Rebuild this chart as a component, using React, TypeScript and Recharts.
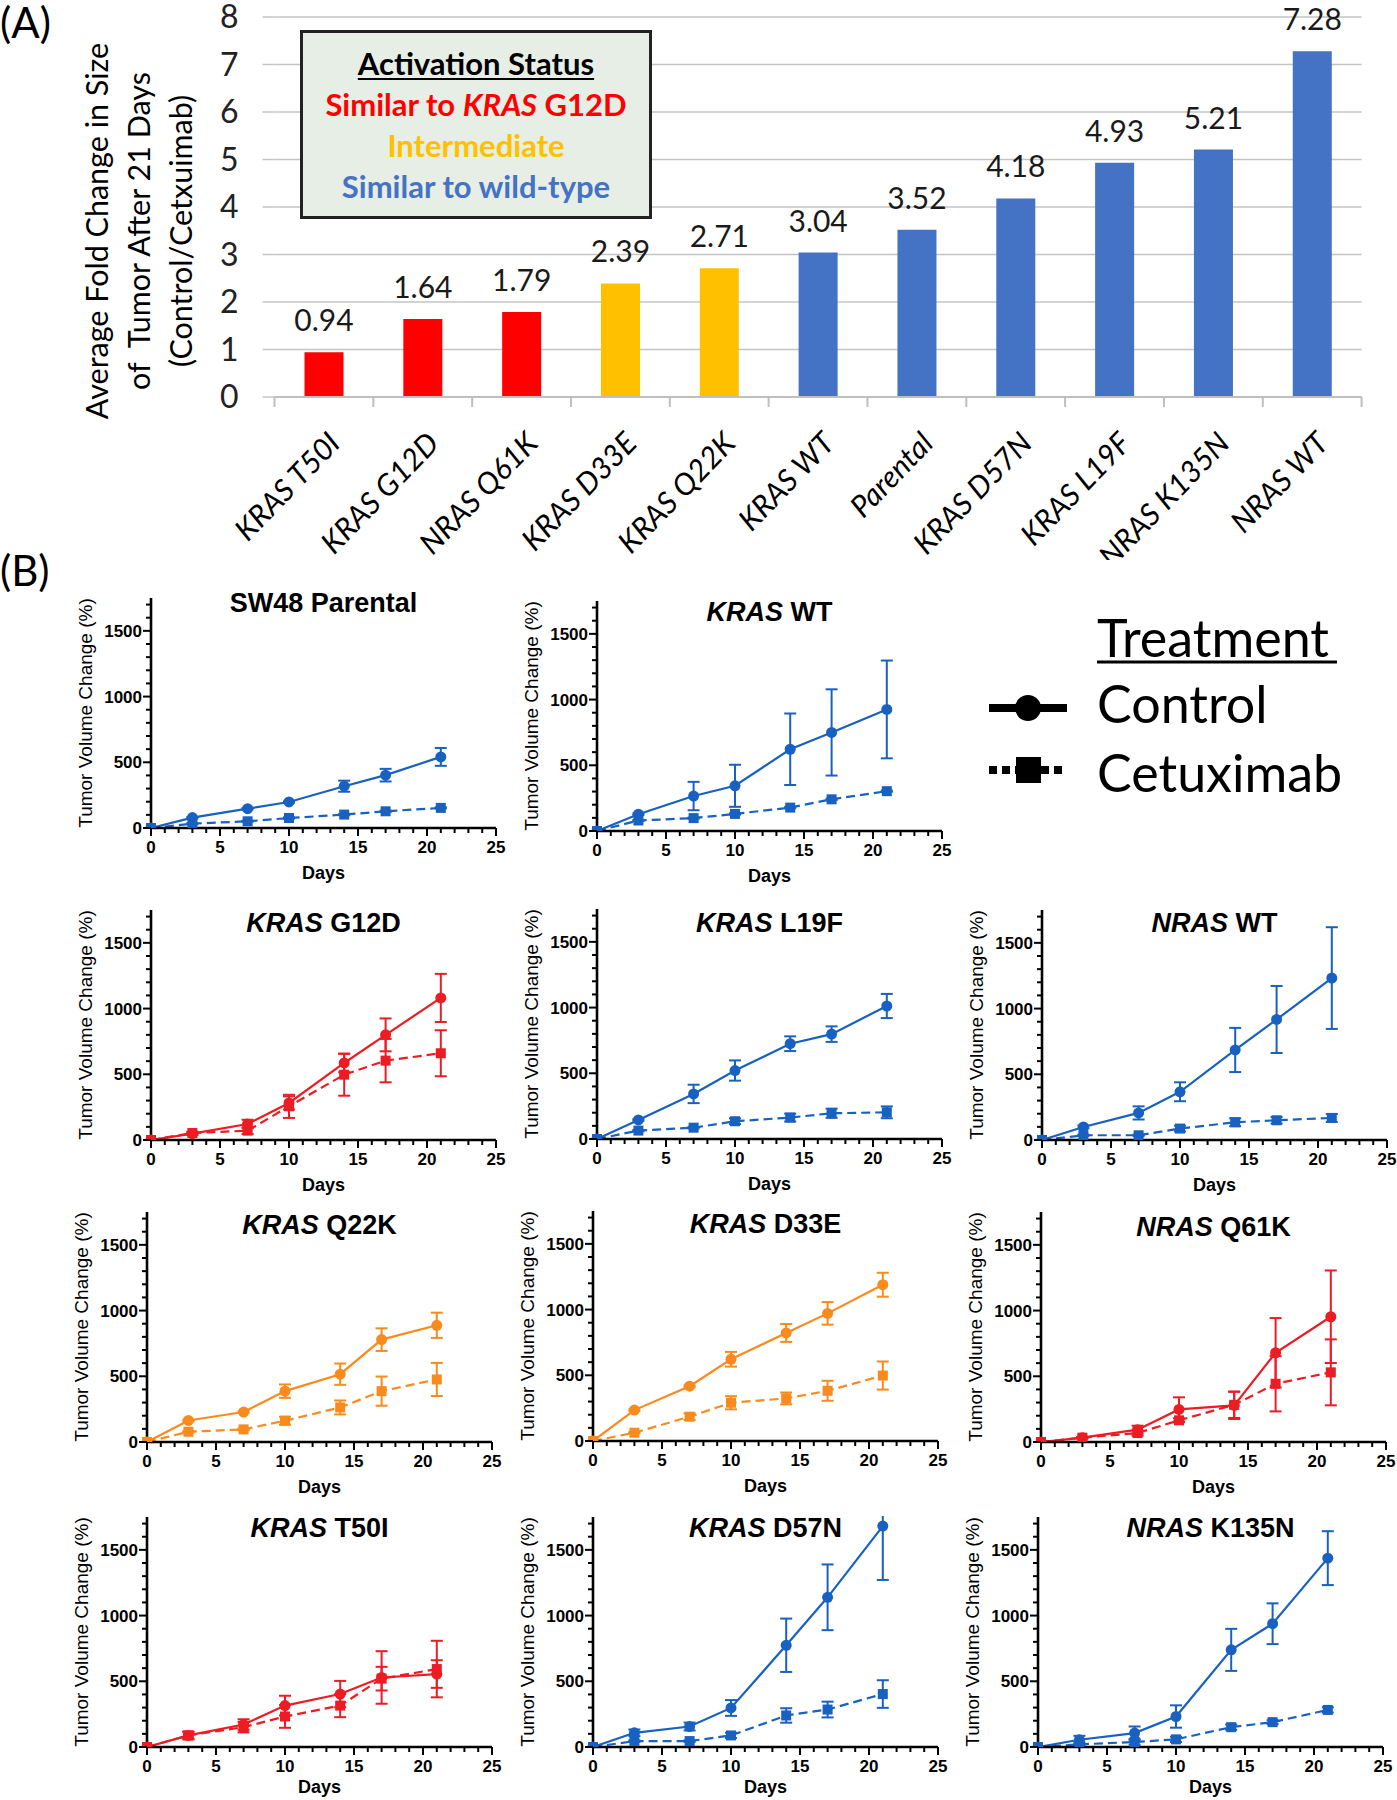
import React from 'react';
import { BarChart, Bar, Cell, LabelList, LineChart, Line, ErrorBar, XAxis, YAxis, CartesianGrid } from 'recharts';

const LATO = 'Lato, "Open Sans", sans-serif';
const ARIAL = '"Liberation Sans", Arial, sans-serif';

// ---- (A) average fold change (control / cetuximab) after 21 days ----
const mutants = ['KRAS T50I', 'KRAS G12D', 'NRAS Q61K', 'KRAS D33E', 'KRAS Q22K', 'KRAS WT', 'Parental', 'KRAS D57N', 'KRAS L19F', 'NRAS K135N', 'NRAS WT'];
const foldChange = [0.94, 1.64, 1.79, 2.39, 2.71, 3.04, 3.52, 4.18, 4.93, 5.21, 7.28];
const activation = ['g12d', 'g12d', 'g12d', 'mid', 'mid', 'wt', 'wt', 'wt', 'wt', 'wt', 'wt'];
const foldTicks = [0, 1, 2, 3, 4, 5, 6, 7, 8];

// ---- (B) tumor volume change (%) by day ----
const days = [0, 3, 7, 10, 14, 17, 21];
const dayTicks = [0, 1, 2, 3, 4, 5, 6, 7, 8, 9, 10, 11, 12, 13, 14, 15, 16, 17, 18, 19, 20, 21, 22, 23, 24, 25];
const volumeTicks = [0, 100, 200, 300, 400, 500, 600, 700, 800, 900, 1000, 1100, 1200, 1300, 1400, 1500, 1600, 1700];

const parentalCtrl = [0, 79, 147, 198, 318, 402, 541];
const parentalCtrlErr = [0, 5, 5, 5, 42, 48, 68];
const parentalCetux = [0, 33, 51, 76, 102, 127, 153];
const parentalCetuxErr = [0, 4, 4, 5, 5, 5, 5];

const krasWtCtrl = [0, 128, 266, 344, 622, 750, 925];
const krasWtCtrlErr = [0, 6, 108, 160, 272, 328, 372];
const krasWtCetux = [0, 80, 98, 130, 178, 241, 303];
const krasWtCetuxErr = [0, 4, 5, 5, 5, 5, 5];

const g12dCtrl = [0, 48, 122, 282, 586, 800, 1081];
const g12dCtrlErr = [0, 10, 32, 50, 70, 125, 183];
const g12dCetux = [0, 53, 71, 256, 497, 604, 660];
const g12dCetuxErr = [0, 10, 25, 88, 160, 165, 175];

const l19fCtrl = [0, 145, 343, 521, 725, 798, 1012];
const l19fCtrlErr = [0, 6, 70, 77, 56, 59, 92];
const l19fCetux = [0, 64, 86, 135, 163, 196, 203];
const l19fCetuxErr = [0, 5, 6, 22, 30, 35, 45];

const nrasWtCtrl = [0, 99, 206, 367, 685, 917, 1232];
const nrasWtCtrlErr = [0, 10, 50, 72, 168, 255, 387];
const nrasWtCetux = [0, 36, 36, 87, 135, 150, 168];
const nrasWtCetuxErr = [0, 5, 5, 22, 30, 25, 30];

const q22kCtrl = [0, 164, 228, 387, 516, 779, 888];
const q22kCtrlErr = [0, 5, 6, 51, 81, 86, 96];
const q22kCetux = [0, 78, 96, 162, 263, 387, 476];
const q22kCetuxErr = [0, 5, 6, 30, 53, 111, 126];

const d33eCtrl = [0, 235, 417, 622, 822, 971, 1189];
const d33eCtrlErr = [0, 6, 6, 56, 68, 86, 91];
const d33eCetux = [0, 63, 185, 291, 324, 382, 498];
const d33eCetuxErr = [0, 5, 25, 50, 45, 76, 107];

const q61kCtrl = [0, 33, 94, 248, 279, 679, 953];
const q61kCtrlErr = [0, 5, 30, 92, 104, 264, 352];
const q61kCetux = [0, 33, 68, 165, 283, 443, 530];
const q61kCetuxErr = [0, 5, 20, 15, 100, 210, 251];

const t50iCtrl = [0, 88, 171, 315, 403, 529, 555];
const t50iCtrlErr = [0, 25, 40, 75, 100, 200, 105];
const t50iCetux = [0, 88, 151, 232, 315, 520, 593];
const t50iCetuxErr = [0, 30, 40, 86, 88, 90, 215];

const d57nCtrl = [0, 108, 156, 297, 774, 1139, 1681];
const d57nCtrlErr = [0, 25, 30, 60, 203, 250, 410];
const d57nCetux = [0, 45, 45, 88, 240, 285, 403];
const d57nCetuxErr = [0, 6, 6, 20, 55, 60, 105];

const k135nCtrl = [0, 55, 106, 232, 739, 938, 1437];
const k135nCtrlErr = [0, 30, 50, 85, 160, 155, 205];
const k135nCetux = [0, 20, 38, 58, 151, 189, 282];
const k135nCetuxErr = [0, 15, 20, 20, 20, 15, 20];

const BAR_COLOR: Record<string, string> = { g12d: '#ff0000', mid: '#ffc000', wt: '#4472c4' };
const LINE_COLOR: Record<string, string> = { g12d: '#ec1c24', mid: '#f98a1d', wt: '#1861c0' };

// panel placement: x0/y0 = pixel position of the (0, 0) corner of each plot
const panels = [
  { gene: '', rest: 'SW48 Parental', status: 'wt', ctrl: parentalCtrl, ctrlErr: parentalCtrlErr, cetux: parentalCetux, cetuxErr: parentalCetuxErr, x0: 151, y0: 828, titleDy: -225, daysOff: 24 },
  { gene: 'KRAS', rest: ' WT', status: 'wt', ctrl: krasWtCtrl, ctrlErr: krasWtCtrlErr, cetux: krasWtCetux, cetuxErr: krasWtCetuxErr, x0: 597, y0: 831, titleDy: -219, daysOff: 24 },
  { gene: 'KRAS', rest: ' G12D', status: 'g12d', ctrl: g12dCtrl, ctrlErr: g12dCtrlErr, cetux: g12dCetux, cetuxErr: g12dCetuxErr, x0: 151, y0: 1140, titleDy: -217, daysOff: 24 },
  { gene: 'KRAS', rest: ' L19F', status: 'wt', ctrl: l19fCtrl, ctrlErr: l19fCtrlErr, cetux: l19fCetux, cetuxErr: l19fCetuxErr, x0: 597, y0: 1139, titleDy: -216, daysOff: 24 },
  { gene: 'NRAS', rest: ' WT', status: 'wt', ctrl: nrasWtCtrl, ctrlErr: nrasWtCtrlErr, cetux: nrasWtCetux, cetuxErr: nrasWtCetuxErr, x0: 1042, y0: 1140, titleDy: -217, daysOff: 24 },
  { gene: 'KRAS', rest: ' Q22K', status: 'mid', ctrl: q22kCtrl, ctrlErr: q22kCtrlErr, cetux: q22kCetux, cetuxErr: q22kCetuxErr, x0: 147, y0: 1442, titleDy: -217, daysOff: 24 },
  { gene: 'KRAS', rest: ' D33E', status: 'mid', ctrl: d33eCtrl, ctrlErr: d33eCtrlErr, cetux: d33eCetux, cetuxErr: d33eCetuxErr, x0: 593, y0: 1441, titleDy: -217, daysOff: 24 },
  { gene: 'NRAS', rest: ' Q61K', status: 'g12d', ctrl: q61kCtrl, ctrlErr: q61kCtrlErr, cetux: q61kCetux, cetuxErr: q61kCetuxErr, x0: 1041, y0: 1442, titleDy: -215, daysOff: 24 },
  { gene: 'KRAS', rest: ' T50I', status: 'g12d', ctrl: t50iCtrl, ctrlErr: t50iCtrlErr, cetux: t50iCetux, cetuxErr: t50iCetuxErr, x0: 147, y0: 1747, titleDy: -219, daysOff: 29 },
  { gene: 'KRAS', rest: ' D57N', status: 'wt', ctrl: d57nCtrl, ctrlErr: d57nCtrlErr, cetux: d57nCetux, cetuxErr: d57nCetuxErr, x0: 593, y0: 1747, titleDy: -219, daysOff: 29 },
  { gene: 'NRAS', rest: ' K135N', status: 'wt', ctrl: k135nCtrl, ctrlErr: k135nCtrlErr, cetux: k135nCetux, cetuxErr: k135nCetuxErr, x0: 1038, y0: 1747, titleDy: -219, daysOff: 29 },
];

// bar chart geometry
const BAR_LEFT = 274.5;
const BAR_RIGHT = 1361.6;
const BAND = (BAR_RIGHT - BAR_LEFT) / mutants.length;

// small panel geometry
const PW = 345;
const PH = 230;
const ML = 110;
const MT = 40;
const MR = 15;
const XH = 75;

const CategoryTick = (props: any) => {
  const { x, y, payload, index } = props;
  const ax = x + 18;
  const ay = y + 48;
  return (
    <g>
      <line x1={x - BAND / 2} y1={y} x2={x - BAND / 2} y2={y + 10} stroke="#bfbfbf" strokeWidth={2} />
      {index === mutants.length - 1 && (
        <line x1={x + BAND / 2} y1={y} x2={x + BAND / 2} y2={y + 10} stroke="#bfbfbf" strokeWidth={2} />
      )}
      <text x={ax} y={ay} textAnchor="end" transform={`rotate(-46, ${ax}, ${ay})`} fontSize={30} fontStyle="italic" fontFamily={LATO} fill="#000">
        {payload.value}
      </text>
    </g>
  );
};

const DayTick = (props: any) => {
  const { x, y, payload } = props;
  const major = payload.value % 5 === 0;
  return (
    <g>
      <line x1={x} y1={y} x2={x} y2={y + (major ? 8 : 5)} stroke="#000" strokeWidth={2} />
      {major && (
        <text x={x} y={y + 25} textAnchor="middle" fontSize={17} fontWeight="bold" fontFamily={ARIAL} fill="#000">
          {payload.value}
        </text>
      )}
    </g>
  );
};

const VolumeTick = (props: any) => {
  const { x, y, payload } = props;
  const major = payload.value % 500 === 0;
  return (
    <g>
      <line x1={x} y1={y} x2={x - (major ? 8 : 5)} y2={y} stroke="#000" strokeWidth={2} />
      {major && (
        <text x={x - 9} y={y + 6} textAnchor="end" fontSize={17} fontWeight="bold" fontFamily={ARIAL} fill="#000">
          {payload.value}
        </text>
      )}
    </g>
  );
};

function FoldChangeChart() {
  const data = mutants.map((m, i) => ({ name: m, value: foldChange[i], status: activation[i] }));
  return (
    <div style={{ position: 'absolute', left: 0, top: 0 }}>
      <BarChart width={1397} height={560} data={data} margin={{ top: 17, right: 1397 - BAR_RIGHT, left: BAR_LEFT - 60, bottom: 13 }}>
        <CartesianGrid vertical={false} stroke="#c4c4c4" strokeWidth={1.5} />
        <XAxis dataKey="name" interval={0} height={150} tickSize={0} tickMargin={0} tickLine={false} axisLine={{ stroke: '#bfbfbf', strokeWidth: 2 }} tick={<CategoryTick />} />
        <YAxis width={60} domain={[0, 8]} ticks={foldTicks} interval={0} axisLine={false} tickSize={12} tickMargin={24} tickLine={{ stroke: '#c4c4c4', strokeWidth: 1.5 }} tick={{ fontSize: 32, fill: '#222', fontFamily: LATO }} />
        <Bar dataKey="value" barSize={39} isAnimationActive={false}>
          {data.map((d) => (
            <Cell key={d.name} fill={BAR_COLOR[d.status]} />
          ))}
          <LabelList dataKey="value" position="top" offset={21} fontSize={30} fill="#1a1a1a" fontFamily={LATO} formatter={(v: any) => Number(v).toFixed(2)} />
        </Bar>
      </BarChart>
    </div>
  );
}

function GrowthPanel({ p }: { p: (typeof panels)[number] }) {
  const data = days.map((d, i) => ({ day: d, ctrl: p.ctrl[i], ctrlErr: p.ctrlErr[i], cetux: p.cetux[i], cetuxErr: p.cetuxErr[i] }));
  const color = LINE_COLOR[p.status];
  return (
    <>
      <div style={{ position: 'absolute', left: p.x0 - ML, top: p.y0 - PH - MT, clipPath: `inset(${MT - 1}px 0 0 0)` }}>
        <LineChart width={ML + PW + MR} height={MT + PH + XH} data={data} margin={{ top: MT, right: MR, left: 0, bottom: 0 }}>
          <XAxis
            type="number"
            dataKey="day"
            domain={[0, 25]}
            ticks={dayTicks}
            interval={0}
            height={XH}
            tickSize={0}
            tickMargin={0}
            tickLine={false}
            tick={<DayTick />}
            axisLine={{ stroke: '#000', strokeWidth: 2.6 }}
            label={{ value: 'Days', position: 'insideBottom', offset: p.daysOff, fontSize: 18, fontWeight: 'bold', fill: '#000', fontFamily: ARIAL }}
          />
          <YAxis
            type="number"
            domain={[0, 1750]}
            allowDataOverflow
            ticks={volumeTicks}
            interval={0}
            width={ML}
            tickSize={0}
            tickMargin={0}
            tickLine={false}
            tick={<VolumeTick />}
            axisLine={{ stroke: '#000', strokeWidth: 2.6 }}
            label={{ value: 'Tumor Volume Change (%)', angle: -90, position: 'insideLeft', offset: 44, fontSize: 19, fill: '#000', fontFamily: ARIAL, style: { textAnchor: 'middle' } }}
          />
          <Line
            dataKey="ctrl"
            stroke={color}
            strokeWidth={2.2}
            isAnimationActive={false}
            activeDot={false}
            dot={(d: any) => <circle key={`c${d.index}`} cx={d.cx} cy={d.cy} r={5.5} fill={color} />}
          >
            <ErrorBar dataKey="ctrlErr" direction="y" width={6} strokeWidth={2} stroke={color} />
          </Line>
          <Line
            dataKey="cetux"
            stroke={color}
            strokeWidth={2.2}
            strokeDasharray="9 5"
            isAnimationActive={false}
            activeDot={false}
            dot={(d: any) => <rect key={`s${d.index}`} x={d.cx - 5} y={d.cy - 5} width={10} height={10} fill={color} />}
          >
            <ErrorBar dataKey="cetuxErr" direction="y" width={6} strokeWidth={2} stroke={color} />
          </Line>
        </LineChart>
      </div>
      <div
        style={{
          position: 'absolute',
          left: p.x0 + PW / 2 - 200,
          width: 400,
          top: p.y0 + p.titleDy - 15,
          height: 30,
          lineHeight: '30px',
          textAlign: 'center',
          fontFamily: ARIAL,
          fontWeight: 'bold',
          fontSize: 27,
          whiteSpace: 'pre',
        }}
      >
        {p.gene && <i>{p.gene}</i>}
        {p.rest}
      </div>
    </>
  );
}

function TreatmentLegend() {
  return (
    <svg style={{ position: 'absolute', left: 960, top: 590 }} width={437} height={230}>
      <text x={137} y={67} fontSize={52} fontFamily={LATO} fill="#000">Treatment</text>
      <line x1={137} y1={72} x2={377} y2={72} stroke="#000" strokeWidth={3} />
      <line x1={29} y1={118} x2={107} y2={118} stroke="#000" strokeWidth={8} />
      <circle cx={68} cy={118} r={13} fill="#000" />
      <text x={137} y={133} fontSize={52} fontFamily={LATO} fill="#000">Control</text>
      <line x1={29} y1={180} x2={107} y2={180} stroke="#000" strokeWidth={8} strokeDasharray="8 5" />
      <rect x={56} y={167} width={25} height={26} fill="#000" />
      <text x={137} y={202} fontSize={52} fontFamily={LATO} fill="#000">Cetuximab</text>
    </svg>
  );
}

export default function App() {
  return (
    <div style={{ position: 'absolute', left: 0, top: 0, width: 1397, height: 1800, background: '#fff', overflow: 'hidden', fontFamily: LATO, color: '#000' }}>
      <FoldChangeChart />
      <div style={{ position: 'absolute', left: 0, top: -2, fontSize: 42, lineHeight: '48px', fontFamily: LATO }}>(A)</div>
      <div
        style={{
          position: 'absolute',
          left: 138 - 215,
          top: 231 - 63,
          width: 430,
          height: 126,
          transform: 'rotate(-90deg)',
          textAlign: 'center',
          fontSize: 30.5,
          lineHeight: '42px',
          fontFamily: LATO,
          whiteSpace: 'pre',
        }}
      >
        <div>Average Fold Change in Size</div>
        <div>of  Tumor After 21 Days</div>
        <div>(Control/Cetxuimab)</div>
      </div>
      <div
        style={{
          position: 'absolute',
          left: 300,
          top: 30,
          width: 352,
          height: 189,
          boxSizing: 'border-box',
          border: '3px solid #222',
          background: '#e6eee6',
          paddingTop: 10,
          textAlign: 'center',
          fontFamily: LATO,
          fontWeight: 'bold',
          fontSize: 31,
          lineHeight: '41px',
          whiteSpace: 'nowrap',
        }}
      >
        <div style={{ textDecoration: 'underline', textDecorationThickness: 2, textUnderlineOffset: 3 }}>Activation Status</div>
        <div style={{ color: BAR_COLOR.g12d }}>
          Similar to <i>KRAS</i> G12D
        </div>
        <div style={{ color: BAR_COLOR.mid }}>Intermediate</div>
        <div style={{ color: BAR_COLOR.wt }}>Similar to wild-type</div>
      </div>
      <div style={{ position: 'absolute', left: 0, top: 545, fontSize: 42, fontFamily: LATO }}>(B)</div>
      {panels.map((p) => (
        <GrowthPanel key={p.gene + p.rest} p={p} />
      ))}
      <TreatmentLegend />
    </div>
  );
}
